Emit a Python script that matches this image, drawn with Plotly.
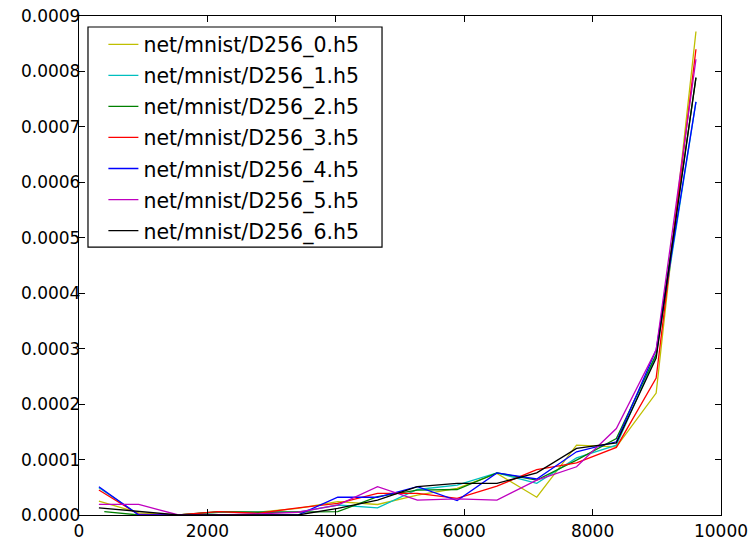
import plotly.graph_objects as go

names = ["net/mnist/D256_0.h5", "net/mnist/D256_1.h5", "net/mnist/D256_2.h5",
         "net/mnist/D256_3.h5", "net/mnist/D256_4.h5", "net/mnist/D256_5.h5",
         "net/mnist/D256_6.h5"]
colors = ["#bfbf00", "#00bfbf", "#008000", "#ff0000", "#0000ff", "#bf00bf", "#000000"]

x_common = [310, 930, 1550, 2170, 2790, 3410, 4030, 4650, 5270, 5890,
            6510, 7130, 7750, 8370, 8990, 9610]
x_green = [394, 930, 1550, 2170, 2790, 3410, 4030, 4650, 5270, 5890,
           6510, 7130, 7750, 8370, 8990, 9610]

y0 = [2.5e-5, 4e-6, 0, 5e-6, 5e-6, 1.2e-5, 2.4e-5, 1.9e-5, 3.6e-5, 4.8e-5,
      7.5e-5, 3.2e-5, 1.26e-4, 1.23e-4, 2.2e-4, 8.72e-4]
y1 = [4.9e-5, 1e-6, 0, 5e-6, 5e-6, 5e-6, 1.8e-5, 1.3e-5, 4.6e-5, 5.4e-5,
      7.6e-5, 5.7e-5, 1.03e-4, 1.26e-4, 2.88e-4, 7.45e-4]
y2 = [6e-6, 0, 0, 6e-6, 5e-6, 5e-6, 6e-6, 3.3e-5, 4.5e-5, 4.6e-5,
      7.6e-5, 6.3e-5, 9.9e-5, 1.38e-4, 2.9e-4, 7.89e-4]
y3 = [4.5e-5, 1e-6, 0, 6e-6, 3e-6, 1.3e-5, 2.1e-5, 3.9e-5, 3.9e-5, 3.0e-5,
      5.2e-5, 8.2e-5, 9.4e-5, 1.22e-4, 2.47e-4, 8.4e-4]
y4 = [5.1e-5, 0, 0, 0, 0, 0, 3.2e-5, 3.2e-5, 5.1e-5, 2.6e-5,
      7.6e-5, 6.5e-5, 1.14e-4, 1.32e-4, 2.98e-4, 7.45e-4]
y5 = [1.9e-5, 1.9e-5, 0, 0, 2e-6, 5e-6, 1.8e-5, 5.1e-5, 2.7e-5, 2.9e-5,
      2.7e-5, 6.3e-5, 8.7e-5, 1.56e-4, 2.98e-4, 8.22e-4]
y6 = [1.3e-5, 6e-6, 0, 0, 0, 0, 1.2e-5, 2.7e-5, 5.1e-5, 5.7e-5,
      5.7e-5, 7.6e-5, 1.2e-4, 1.3e-4, 2.83e-4, 7.89e-4]

series_y = [y0, y1, y2, y3, y4, y5, y6]
series_x = [x_common, x_common, x_green, x_common, x_common, x_common, x_common]

x_ticks = [0, 2000, 4000, 6000, 8000, 10000]
y_ticks = [0, 0.0001, 0.0002, 0.0003, 0.0004, 0.0005, 0.0006, 0.0007, 0.0008, 0.0009]

fig = go.Figure()
for i in range(7):
    fig.add_trace(go.Scatter(x=series_x[i], y=series_y[i], mode="lines", name=names[i],
                             line=dict(color=colors[i], width=1.3),
                             legendgroup=str(i)))

axis_common = dict(showgrid=False, zeroline=False, showline=True, linecolor="black",
                   linewidth=1.3, mirror="ticks", ticks="inside", ticklen=6,
                   tickcolor="black", tickwidth=1, automargin=False,
                   tickfont=dict(family="DejaVu Sans", size=17, color="black"))

# legend frame (drawn as a shape so it can be sized like the reference)
fig.add_shape(type="rect", xref="paper", yref="paper",
              x0=0.014, x1=0.472, y0=0.537, y1=0.978,
              line=dict(color="black", width=1.2), fillcolor="white", layer="above")

fig.update_layout(
    width=753, height=541,
    margin=dict(l=79, r=32, t=16, b=26, autoexpand=False),
    paper_bgcolor="white", plot_bgcolor="white",
    font=dict(family="DejaVu Sans", size=17, color="black"),
    xaxis=dict(range=[0, 10000], tickvals=x_ticks, ticktext=[str(v) for v in x_ticks],
               ticklabelstandoff=0, **axis_common),
    yaxis=dict(range=[0, 0.0009], tickvals=y_ticks, ticktext=["%.4f" % v for v in y_ticks],
               ticklabelstandoff=-6, **axis_common),
    legend=dict(x=0.038, y=0.983, xanchor="left", yanchor="top",
                borderwidth=0, bgcolor="rgba(0,0,0,0)",
                font=dict(family="DejaVu Sans", size=20.5, color="black"),
                tracegroupgap=1.4, itemwidth=30),
    showlegend=True,
)

fig.write_html("out.html")
